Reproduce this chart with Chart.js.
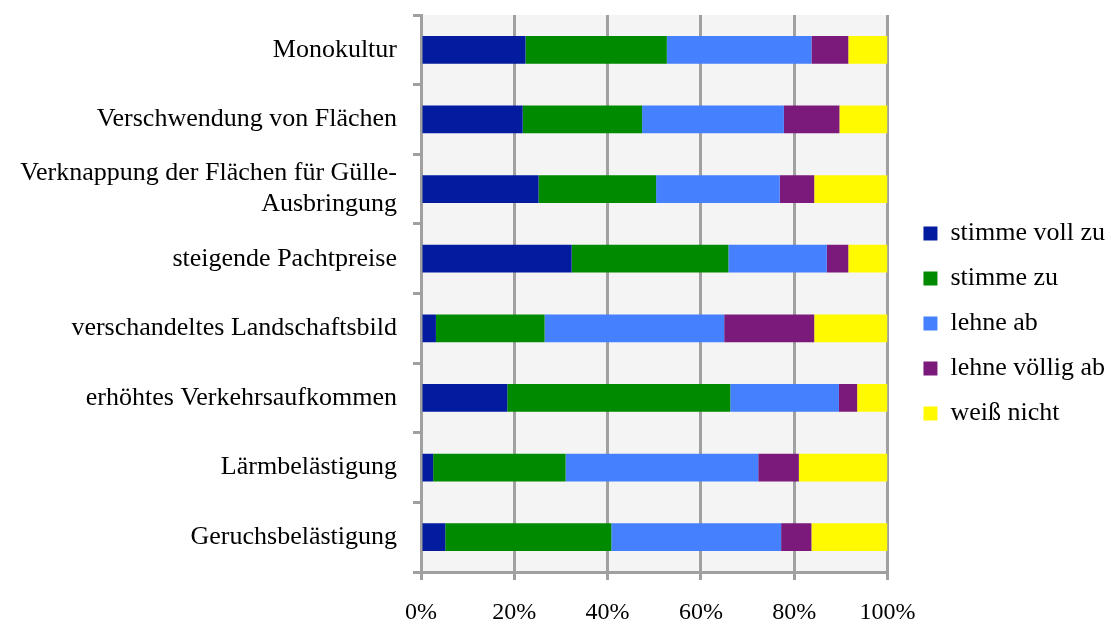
<!DOCTYPE html>
<html lang="de">
<head>
    <meta charset="UTF-8">
    <title>Bewertung</title>
    <script src="https://cdn.jsdelivr.net/npm/chart.js@4/dist/chart.umd.min.js"></script>
    <style>
        body { margin: 0; background: #fff; }
        #wrap { width: 1111px; height: 628px; }
    </style>
</head>
<body>
    <div id="wrap"><canvas id="chart" width="1111" height="628"></canvas></div>

    <script>
        // categories top to bottom
        const categories = [
            'Monokultur',
            'Verschwendung von Flächen',
            ['Verknappung der Flächen für Gülle-', 'Ausbringung'],
            'steigende Pachtpreise',
            'verschandeltes Landschaftsbild',
            'erhöhtes Verkehrsaufkommen',
            'Lärmbelästigung',
            'Geruchsbelästigung'
        ];

        const seriesNames = ['stimme voll zu', 'stimme zu', 'lehne ab', 'lehne völlig ab', 'weiß nicht'];

        // shares in percent
        const stimmeVollZu   = [22.4, 21.8, 25.2, 32.3, 3.2, 18.5, 2.6, 5.2];
        const stimmeZu       = [30.3, 25.6, 25.2, 33.6, 23.3, 47.8, 28.4, 35.6];
        const lehneAb        = [31.0, 30.4, 26.5, 21.1, 38.5, 23.3, 41.3, 36.4];
        const lehneVoelligAb = [7.9, 11.9, 7.4, 4.6, 19.3, 3.9, 8.7, 6.5];
        const weissNicht     = [8.4, 10.3, 15.7, 8.4, 15.7, 6.5, 19.0, 16.3];

        const xTicks = [0, 20, 40, 60, 80, 100];

        const colors = ['#031c9f', '#008a00', '#4580ff', '#7b1a7b', '#fffa00'];
        const font = 'Liberation Serif';
        const gridColor = '#a0a0a0';

        // light grey plot area
        const plotBg = {
            id: 'plotBg',
            beforeDraw(chart) {
                const a = chart.chartArea;
                const ctx = chart.ctx;
                ctx.save();
                ctx.fillStyle = '#f4f4f4';
                ctx.fillRect(a.left, a.top, a.right - a.left, a.bottom - a.top);
                ctx.restore();
            }
        };

        // push the legend a bit right and down, like the original
        const legendShift = {
            id: 'legendShift',
            afterLayout(chart) {
                const lg = chart.legend;
                lg.left += 17; lg.right += 17;
                lg.top += 2; lg.bottom += 2;
            }
        };

        const values = [stimmeVollZu, stimmeZu, lehneAb, lehneVoelligAb, weissNicht];

        new Chart(document.getElementById('chart'), {
            type: 'bar',
            data: {
                labels: categories,
                datasets: seriesNames.map((name, i) => ({
                    label: name,
                    data: values[i],
                    backgroundColor: colors[i],
                    borderWidth: 0,
                    barPercentage: 0.4,
                    categoryPercentage: 1
                }))
            },
            options: {
                indexAxis: 'y',
                responsive: false,
                animation: false,
                layout: { padding: { top: 15, right: 13, left: 0, bottom: 0 } },
                scales: {
                    x: {
                        stacked: true,
                        min: 0,
                        max: 100,
                        afterBuildTicks: axis => { axis.ticks = xTicks.map(v => ({ value: v })); },
                        afterFit: axis => { axis.height = 56; },
                        grid: { color: gridColor, lineWidth: 3, tickLength: 8 },
                        border: { color: gridColor, width: 3 },
                        ticks: {
                            callback: v => v + '%',
                            color: '#000',
                            padding: 18,
                            maxRotation: 0,
                            font: { family: font, size: 24 }
                        }
                    },
                    y: {
                        stacked: true,
                        afterFit: axis => {
                            axis.width = 421;
                            axis.paddingTop = 0;
                            axis.paddingBottom = 0;
                        },
                        grid: { color: gridColor, lineWidth: 3, drawOnChartArea: false, tickLength: 8, offset: true },
                        border: { color: gridColor, width: 3 },
                        ticks: {
                            color: '#000',
                            padding: 16,
                            font: { family: font, size: 26 }
                        }
                    }
                },
                plugins: {
                    legend: {
                        position: 'right',
                        align: 'center',
                        labels: {
                            boxWidth: 14,
                            boxHeight: 14,
                            padding: 19,
                            color: '#000',
                            font: { family: font, size: 26 }
                        }
                    },
                    tooltip: { enabled: false }
                }
            },
            plugins: [plotBg, legendShift]
        });
    </script>
</body>
</html>
